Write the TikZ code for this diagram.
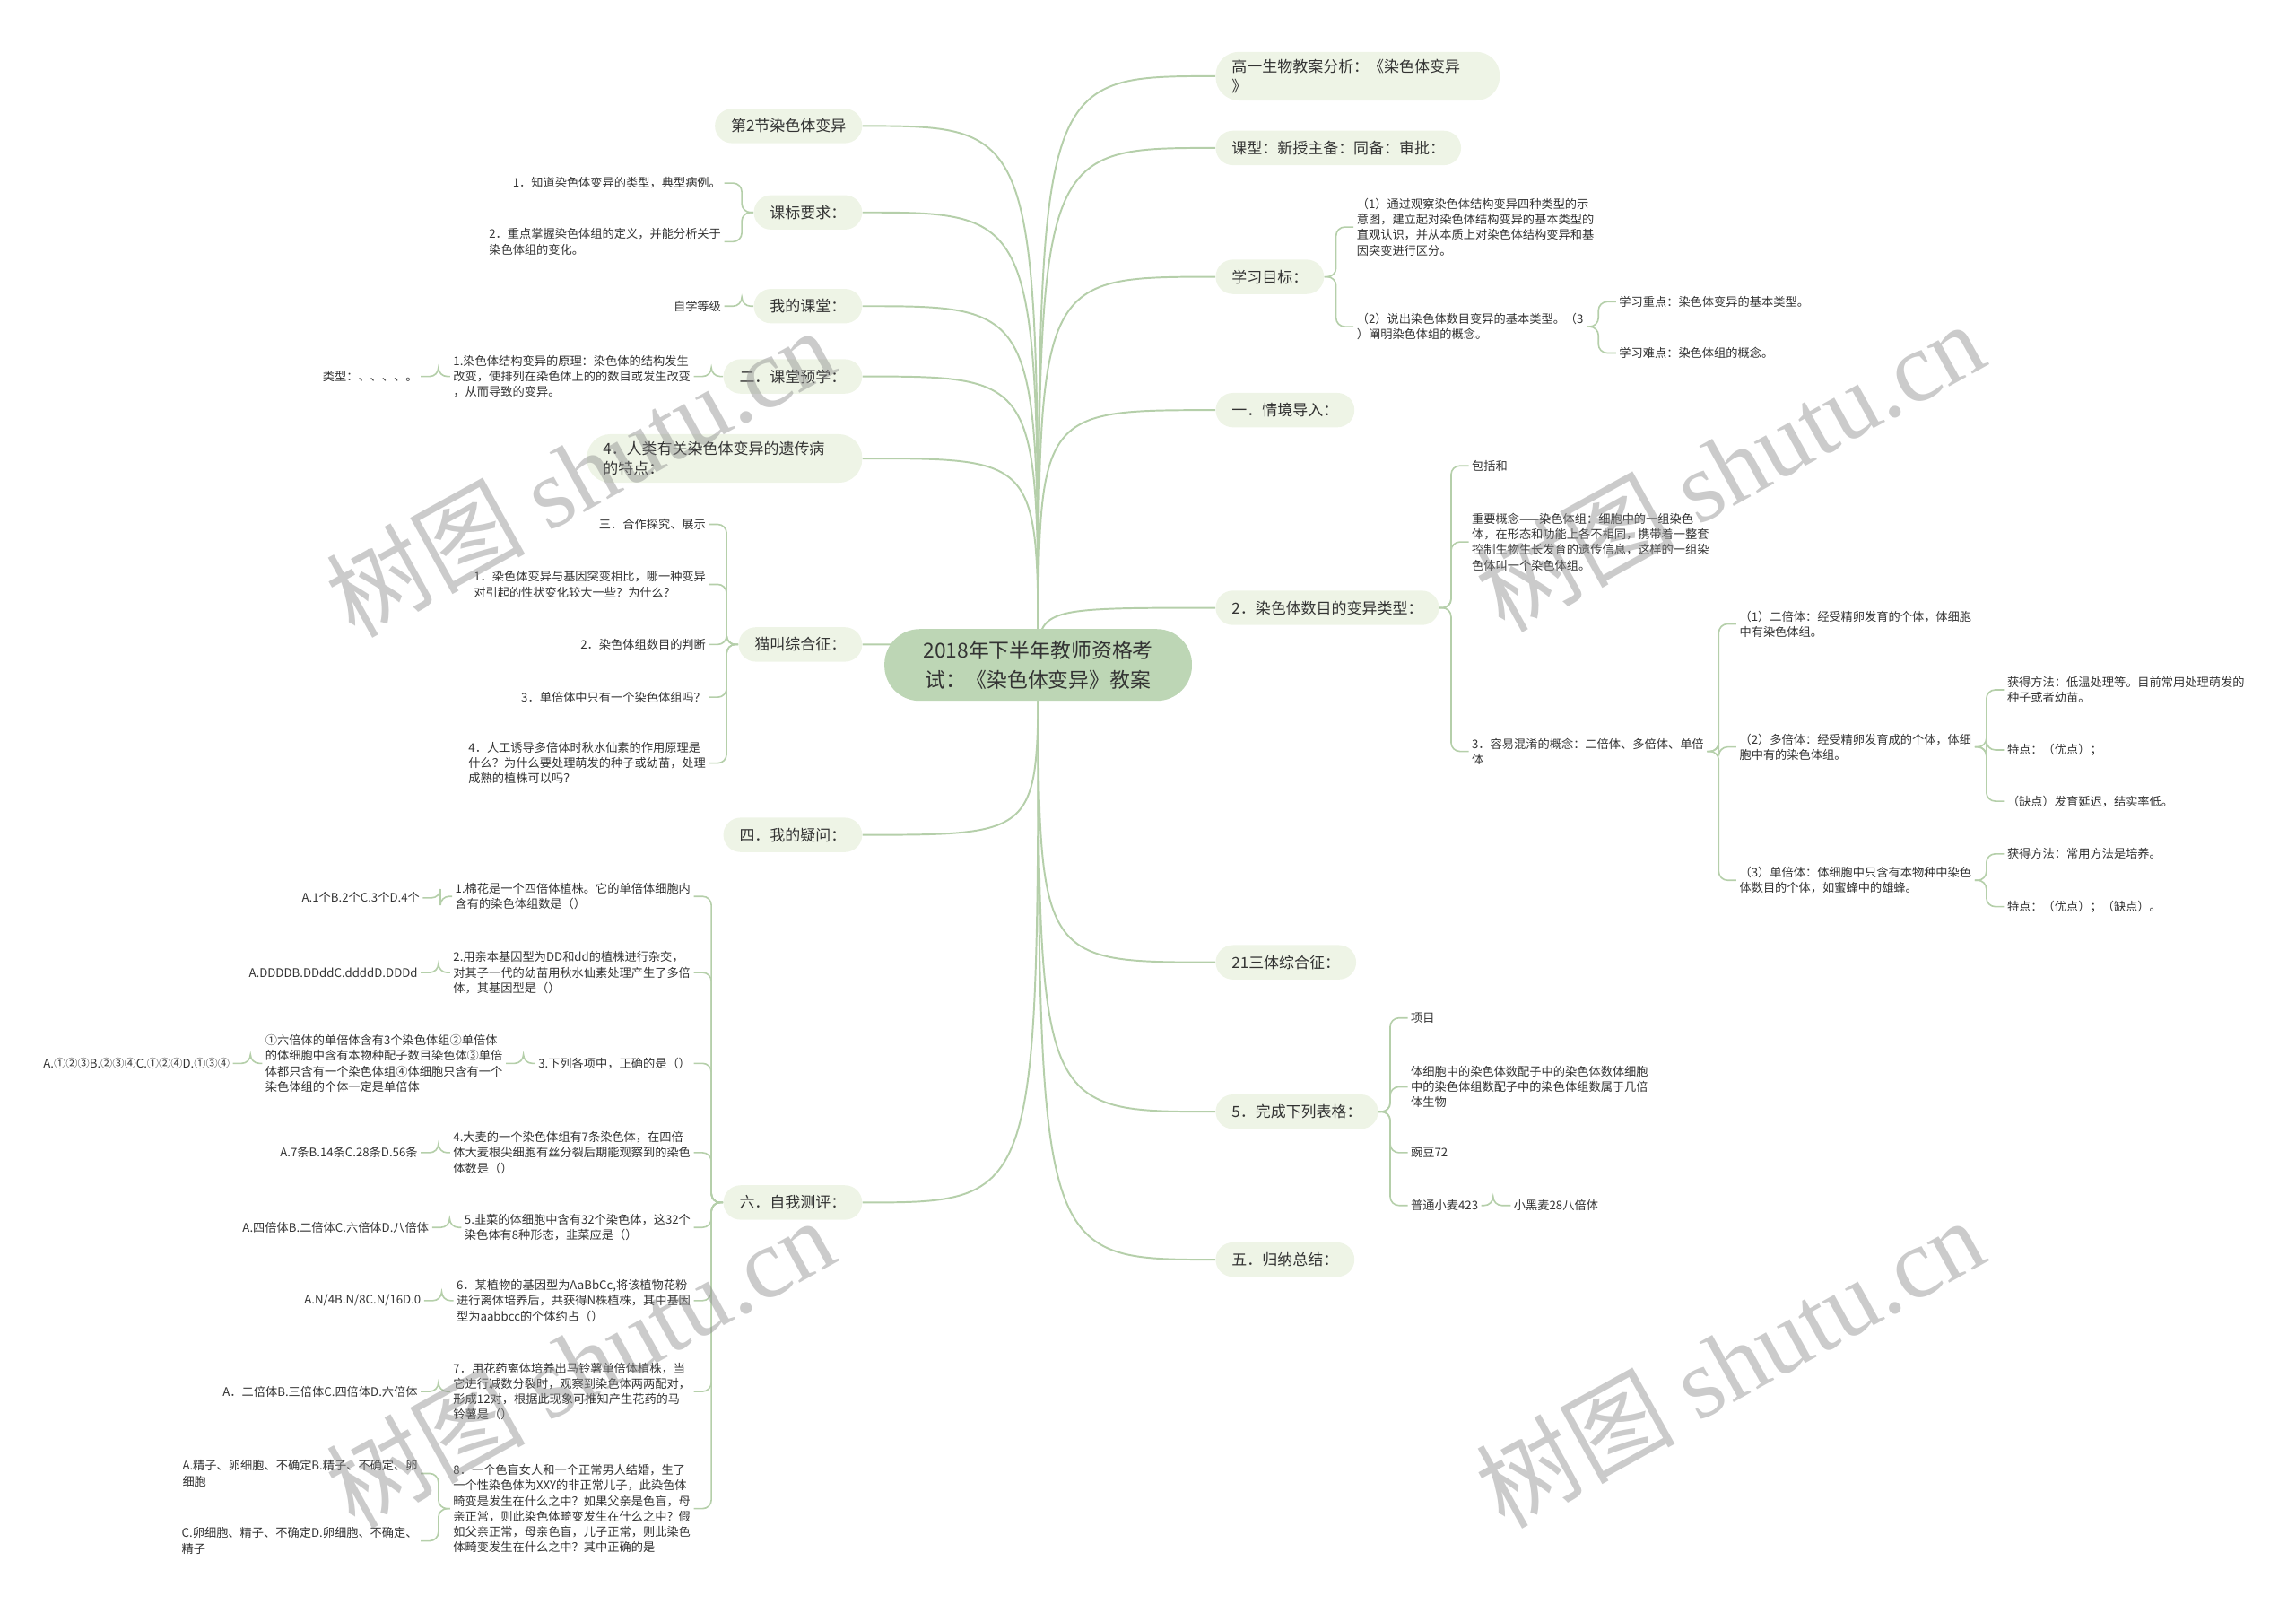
\documentclass[tikz,border=0pt]{standalone}
\usepackage{fontspec}
\setmainfont{Noto Sans CJK SC}
\newfontfamily\wmlat{Liberation Serif}
\usetikzlibrary{backgrounds}
\definecolor{l1fill}{HTML}{EEF4E6}
\definecolor{cfill}{HTML}{BDD6B5}
\definecolor{linec}{HTML}{B5CFAA}
\definecolor{txt}{HTML}{333333}
\newcommand\brL[2]{\draw[br] (#1.west) -- ++(-8,0) |- (#2.east);}
\newcommand\brR[2]{\draw[br] (#1.east) -- ++(8,0) |- (#2.west);}
\begin{document}
\begin{tikzpicture}[x=1pt,y=-1pt,
  ctr/.style={fill=cfill, rounded corners=24pt, minimum width=210pt, minimum height=49pt, align=center, inner xsep=20pt, font=\fontsize{14}{20}\selectfont, text=txt},
  lone/.style={fill=l1fill, rounded corners=11.75pt, inner xsep=11pt, inner ysep=3pt, minimum height=23.5pt, font=\fontsize{10.4}{13.5}\selectfont, text=txt},
  loneL/.style={lone, anchor=east},
  loneR/.style={lone, anchor=west},
  leaf/.style={inner xsep=2pt, inner ysep=1pt, align=left, font=\fontsize{8.1}{10.6}\selectfont, text=txt},
  leafL/.style={leaf, anchor=east, xshift=-20pt},
  leafR/.style={leaf, anchor=west, xshift=20pt},
  conn/.style={draw=linec, line width=1.2pt},
  br/.style={draw=linec, line width=1pt, rounded corners=6pt},
  wm/.style={text=black!45, opacity=0.45, font=\fontsize{68}{68}\selectfont, rotate=29}
]
\useasboundingbox (0,0) rectangle (1568,1101);

% centre
\node[ctr] (C) at (709,454) {2018年下半年教师资格考\\试：《染色体变异》教案};

% left first level
\node[loneL] (n1) at (589,86) {第2节染色体变异};
\node[loneL] (n2) at (589,145) {课标要求：};
\node[loneL] (n3) at (589,209) {我的课堂：};
\node[loneL] (n4) at (589,257) {二．课堂预学：};
\node[loneL, text width=166pt, align=left, rounded corners=16pt, inner ysep=5pt] (n5) at (589,313) {4．人类有关染色体变异的遗传病\\的特点：};
\node[loneL] (n6) at (589,440) {猫叫综合征：};
\node[loneL] (n7) at (589,570) {四．我的疑问：};
\node[loneL] (n8) at (589,821) {六．自我测评：};

% right first level
\node[loneR, text width=172pt, align=left, rounded corners=16pt, inner ysep=5pt] (r1) at (830,52) {高一生物教案分析：《染色体变异\\》};
\node[loneR] (r2) at (830,101) {课型：新授主备：同备：审批：};
\node[loneR] (r3) at (830,189) {学习目标：};
\node[loneR] (r4) at (830,280) {一．情境导入：};
\node[loneR] (r5) at (830,415) {2．染色体数目的变异类型：};
\node[loneR] (r6) at (830,657) {21三体综合征：};
\node[loneR] (r7) at (830,759) {5．完成下列表格：};
\node[loneR] (r8) at (830,860) {五．归纳总结：};

% left leaves
\node[leafL] (n2a) at (n2.west |- 0,125) {1．知道染色体变异的类型，典型病例。};
\node[leafL] (n2b) at (n2.west |- 0,165) {2．重点掌握染色体组的定义，并能分析关于\\染色体组的变化。};
\node[leafL] (n3a) at (n3.west |- 0,209) {自学等级};
\node[leafL] (n4a) at (n4.west |- 0,257) {1.染色体结构变异的原理：染色体的结构发生\\改变，使排列在染色体上的的数目或发生改变\\，从而导致的变异。};
\node[leafL] (n4b) at (n4a.west |- 0,257) {类型：、、、、。};

\node[leafL] (n6a) at (n6.west |- 0,358) {三．合作探究、展示};
\node[leafL] (n6b) at (n6.west |- 0,399) {1．染色体变异与基因突变相比，哪一种变异\\对引起的性状变化较大一些？为什么？};
\node[leafL] (n6c) at (n6.west |- 0,440) {2．染色体组数目的判断};
\node[leafL] (n6d) at (n6.west |- 0,476) {3．单倍体中只有一个染色体组吗？};
\node[leafL] (n6e) at (n6.west |- 0,521) {4．人工诱导多倍体时秋水仙素的作用原理是\\什么？为什么要处理萌发的种子或幼苗，处理\\成熟的植株可以吗？};

\node[leafL] (q1) at (n8.west |- 0,612) {1.棉花是一个四倍体植株。它的单倍体细胞内\\含有的染色体组数是（）};
\node[leafL] (q2) at (n8.west |- 0,664) {2.用亲本基因型为DD和dd的植株进行杂交，\\对其子一代的幼苗用秋水仙素处理产生了多倍\\体，其基因型是（）};
\node[leafL] (q3) at (n8.west |- 0,726) {3.下列各项中，正确的是（）};
\node[leafL] (q4) at (n8.west |- 0,787) {4.大麦的一个染色体组有7条染色体，在四倍\\体大麦根尖细胞有丝分裂后期能观察到的染色\\体数是（）};
\node[leafL] (q5) at (n8.west |- 0,838) {5.韭菜的体细胞中含有32个染色体，这32个\\染色体有8种形态，韭菜应是（）};
\node[leafL] (q6) at (n8.west |- 0,888) {6．某植物的基因型为AaBbCc,将该植物花粉\\进行离体培养后，共获得N株植株，其中基因\\型为aabbcc的个体约占（）};
\node[leafL] (q7) at (n8.west |- 0,950) {7．用花药离体培养出马铃薯单倍体植株，当\\它进行减数分裂时，观察到染色体两两配对，\\形成12对，根据此现象可推知产生花药的马\\铃薯是（）};
\node[leafL] (q8) at (n8.west |- 0,1030) {8．一个色盲女人和一个正常男人结婚，生了\\一个性染色体为XXY的非正常儿子，此染色体\\畸变是发生在什么之中？如果父亲是色盲，母\\亲正常，则此染色体畸变发生在什么之中？假\\如父亲正常，母亲色盲，儿子正常，则此染色\\体畸变发生在什么之中？其中正确的是};

\node[leafL] (a1) at (q1.west |- 0,613) {A.1个B.2个C.3个D.4个};
\node[leafL] (a2) at (q2.west |- 0,664) {A.DDDDB.DDddC.ddddD.DDDd};
\node[leafL] (q3a) at (q3.west |- 0,726) {①六倍体的单倍体含有3个染色体组②单倍体\\的体细胞中含有本物种配子数目染色体③单倍\\体都只含有一个染色体组④体细胞只含有一个\\染色体组的个体一定是单倍体};
\node[leafL] (q3b) at (q3a.west |- 0,726) {A.①②③B.②③④C.①②④D.①③④};
\node[leafL] (a4) at (q4.west |- 0,787) {A.7条B.14条C.28条D.56条};
\node[leafL] (a5) at (q5.west |- 0,838) {A.四倍体B.二倍体C.六倍体D.八倍体};
\node[leafL] (a6) at (q6.west |- 0,888) {A.N/4B.N/8C.N/16D.0};
\node[leafL] (a7) at (q7.west |- 0,950) {A．二倍体B.三倍体C.四倍体D.六倍体};
\node[leafL] (a8a) at (q8.west |- 0,1006) {A.精子、卵细胞、不确定B.精子、不确定、卵\\细胞};
\node[leafL] (a8b) at (q8.west |- 0,1052) {C.卵细胞、精子、不确定D.卵细胞、不确定、\\精子};

% right leaves
\node[leafR] (r3a) at (r3.east |- 0,155) {（1）通过观察染色体结构变异四种类型的示\\意图，建立起对染色体结构变异的基本类型的\\直观认识，并从本质上对染色体结构变异和基\\因突变进行区分。};
\node[leafR] (r3b) at (r3.east |- 0,223) {（2）说出染色体数目变异的基本类型。（3\\）阐明染色体组的概念。};
\node[leafR] (r3b1) at (r3b.east |- 0,206) {学习重点：染色体变异的基本类型。};
\node[leafR] (r3b2) at (r3b.east |- 0,241) {学习难点：染色体组的概念。};

\node[leafR] (r5a) at (r5.east |- 0,318) {包括和};
\node[leafR] (r5b) at (r5.east |- 0,370) {重要概念——染色体组：细胞中的一组染色\\体，在形态和功能上各不相同，携带着一整套\\控制生物生长发育的遗传信息，这样的一组染\\色体叫一个染色体组。};
\node[leafR] (r5c) at (r5.east |- 0,513) {3．容易混淆的概念：二倍体、多倍体、单倍\\体};
\node[leafR] (r5c1) at (r5c.east |- 0,426) {（1）二倍体：经受精卵发育的个体，体细胞\\中有染色体组。};
\node[leafR] (r5c2) at (r5c.east |- 0,510) {（2）多倍体：经受精卵发育成的个体，体细\\胞中有的染色体组。};
\node[leafR] (r5c3) at (r5c.east |- 0,601) {（3）单倍体：体细胞中只含有本物种中染色\\体数目的个体，如蜜蜂中的雄蜂。};
\node[leafR] (r5c2a) at (r5c2.east |- 0,471) {获得方法：低温处理等。目前常用处理萌发的\\种子或者幼苗。};
\node[leafR] (r5c2b) at (r5c2.east |- 0,512) {特点：（优点）；};
\node[leafR] (r5c2c) at (r5c2.east |- 0,547) {（缺点）发育延迟，结实率低。};
\node[leafR] (r5c3a) at (r5c3.east |- 0,583) {获得方法：常用方法是培养。};
\node[leafR] (r5c3b) at (r5c3.east |- 0,619) {特点：（优点）；（缺点）。};

\node[leafR] (r7a) at (r7.east |- 0,695) {项目};
\node[leafR] (r7b) at (r7.east |- 0,742) {体细胞中的染色体数配子中的染色体数体细胞\\中的染色体组数配子中的染色体组数属于几倍\\体生物};
\node[leafR] (r7c) at (r7.east |- 0,787) {豌豆72};
\node[leafR] (r7d) at (r7.east |- 0,823) {普通小麦423};
\node[leafR] (r7d1) at (r7d.east |- 0,823) {小黑麦28八倍体};

\begin{pgfonlayer}{background}
  \foreach \n in {n1,n2,n3,n4,n5,n6,n7,n8}
    \draw[conn] (C.center) .. controls (C.center |- \n.east) .. (\n.east);
  \foreach \n in {r1,r2,r3,r4,r5,r6,r7,r8}
    \draw[conn] (C.center) .. controls (C.center |- \n.west) .. (\n.west);
  \brL{n2}{n2a} \brL{n2}{n2b}
  \brL{n3}{n3a}
  \brL{n4}{n4a} \brL{n4a}{n4b}
  \brL{n6}{n6a} \brL{n6}{n6b} \brL{n6}{n6c} \brL{n6}{n6d} \brL{n6}{n6e}
  \brL{n8}{q1} \brL{n8}{q2} \brL{n8}{q3} \brL{n8}{q4}
  \brL{n8}{q5} \brL{n8}{q6} \brL{n8}{q7} \brL{n8}{q8}
  \brL{q1}{a1} \brL{q2}{a2} \brL{q3}{q3a} \brL{q3a}{q3b}
  \brL{q4}{a4} \brL{q5}{a5} \brL{q6}{a6} \brL{q7}{a7}
  \brL{q8}{a8a} \brL{q8}{a8b}
  \brR{r3}{r3a} \brR{r3}{r3b}
  \brR{r3b}{r3b1} \brR{r3b}{r3b2}
  \brR{r5}{r5a} \brR{r5}{r5b} \brR{r5}{r5c}
  \brR{r5c}{r5c1} \brR{r5c}{r5c2} \brR{r5c}{r5c3}
  \brR{r5c2}{r5c2a} \brR{r5c2}{r5c2b} \brR{r5c2}{r5c2c}
  \brR{r5c3}{r5c3a} \brR{r5c3}{r5c3b}
  \brR{r7}{r7a} \brR{r7}{r7b} \brR{r7}{r7c} \brR{r7}{r7d}
  \brR{r7d}{r7d1}
\end{pgfonlayer}

% watermarks
\node[wm] (w1) at (396,322) {树图 {\wmlat shutu.cn}};
\node[wm] (w2) at (1181,318) {树图 {\wmlat shutu.cn}};
\node[wm] (w3) at (396,930) {树图 {\wmlat shutu.cn}};
\node[wm] (w4) at (1181,930) {树图 {\wmlat shutu.cn}};
\end{tikzpicture}
\end{document}
